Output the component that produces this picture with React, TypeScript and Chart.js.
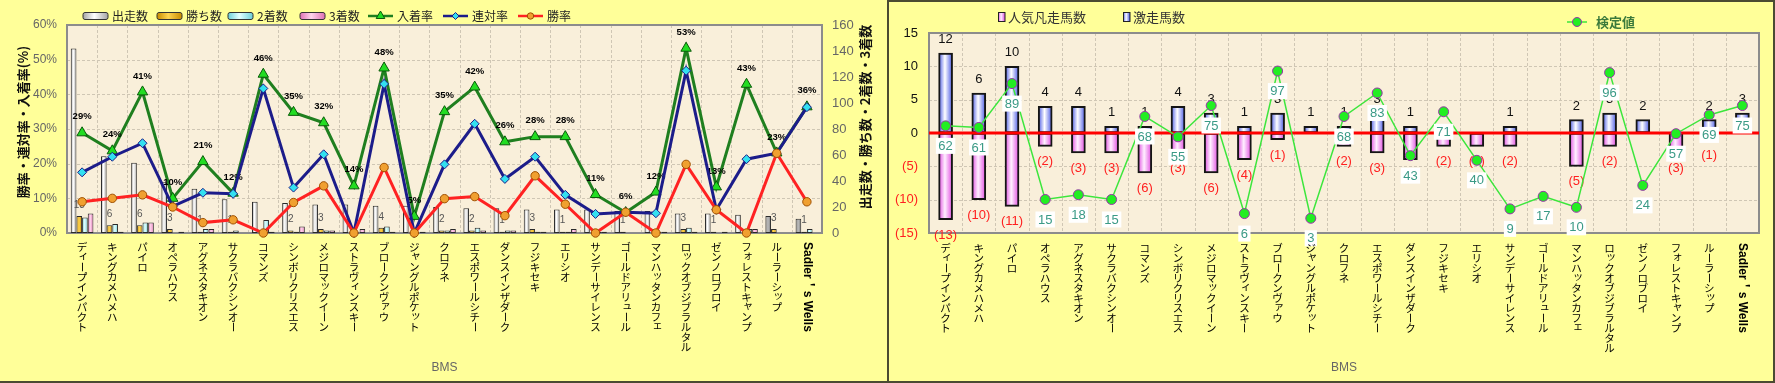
import React, { useEffect, useRef } from 'react';
import { Chart, registerables } from 'chart.js';
Chart.register(...registerables);

// ---------- data ----------
const categories = ['ディープインパクト', 'キングカメハメハ', 'パイロ', 'オペラハウス', 'アグネスタキオン', 'サクラバクシンオー', 'コマンズ', 'シンボリクリスエス', 'メジロマックイーン', 'ストラヴィンスキー', 'ブロークンヴァウ', 'ジャングルポケット', 'クロフネ', 'エスポワールシチー', 'ダンスインザダーク', 'フジキセキ', 'エリシオ', 'サンデーサイレンス', 'ゴールドアリュール', 'マンハッタンカフェ', 'ロックオブジブラルタル', 'ゼンノロブロイ', 'フォレストキャンプ', 'ルーラーシップ', 'Sadler＇s Wells'];

// left chart (counts)
const runs = [142, 59, 54, 39, 34, 26, 24, 23, 22, 22, 21, 21, 20, 19, 19, 18, 18, 18, 17, 17, 15, 15, 14, 13, 11];
const wins = [13, 6, 6, 3, 1, 1, 0, 2, 3, 0, 4, 0, 2, 2, 1, 3, 1, 0, 1, 0, 3, 1, 0, 3, 1];
const seconds = [12, 7, 8, 0, 3, 2, 10, 1, 2, 0, 5, 0, 2, 4, 2, 1, 1, 1, 0, 1, 4, 0, 3, 0, 3];
const thirds = [15, 1, 8, 1, 3, 0, 1, 5, 2, 3, 1, 1, 3, 2, 2, 1, 3, 1, 0, 1, 1, 1, 3, 0, 0];
// left chart (rates, %)
const placeRate = [28.9, 23.7, 40.7, 10.0, 20.6, 11.5, 45.8, 34.8, 31.8, 13.6, 47.6, 4.8, 35.0, 42.1, 26.3, 27.8, 27.8, 11.1, 5.9, 11.8, 53.3, 13.3, 42.9, 23.1, 36.4];
const rentaiRate = [17.5, 22.0, 25.9, 7.7, 11.6, 11.3, 41.7, 13.1, 22.7, 0, 43.0, 0, 19.8, 31.5, 15.6, 22.0, 11.0, 5.5, 6.0, 5.7, 46.8, 6.7, 21.3, 23.0, 36.3];
const winRate = [9.0, 10.0, 11.0, 7.5, 3.0, 3.8, 0, 8.8, 13.6, 0, 18.9, 0, 9.9, 10.5, 5.0, 16.5, 8.3, 0, 6.0, 0, 19.8, 6.7, 0, 23.0, 9.0];
const grayRunIdx = [23, 24];

// right chart
const gekisou = [12, 6, 10, 4, 4, 1, 1, 4, 3, 1, 3, 1, 1, 3, 1, 1, 0, 1, 0, 2, 3, 2, 0, 2, 3];
const bonsou = [13, 10, 11, 2, 3, 3, 6, 3, 6, 4, 1, 0, 2, 3, 4, 2, 2, 2, 0, 5, 2, 0, 3, 1, 0];
const kentei = [62, 61, 89, 15, 18, 15, 68, 55, 75, 6, 97, 3, 68, 83, 43, 71, 40, 9, 17, 10, 96, 24, 57, 69, 75];

// ---------- styles ----------
const N = categories.length;
const JP = '"Noto Sans CJK JP", sans-serif';
const LAT = '"Liberation Sans", Arial, sans-serif';
const YELLOW = '#FFFF99';
const DARK = '#4B4B32';
const PLOT_BG = '#F9EFDA';
const GRID = '#CFC6B4';
const FRAME = '#8C8C8C';

function drawVLabel(ctx: CanvasRenderingContext2D, text: string, x: number, top: number, step: number) {
  ctx.save();
  ctx.fillStyle = '#000';
  if (/^[\x20-\x7E＇’]+$/.test(text)) {
    ctx.translate(x, top);
    ctx.rotate(Math.PI / 2);
    ctx.font = `bold 12px ${LAT.replace('Arial', '"Noto Sans CJK JP", Arial')}`;
    ctx.textAlign = 'left';
    ctx.textBaseline = 'middle';
    ctx.fillText(text, 0, 0);
    ctx.restore();
    return;
  }
  ctx.font = `10.5px ${JP}`;
  ctx.textAlign = 'center';
  ctx.textBaseline = 'middle';
  const small = 'ァィゥェォッャュョ';
  [...text].forEach((ch, i) => {
    const cy = top + step * (i + 0.5);
    if (ch === 'ー') {
      ctx.save();
      ctx.translate(x, cy);
      ctx.rotate(Math.PI / 2);
      ctx.fillText(ch, 0, 0);
      ctx.restore();
    } else if (small.includes(ch)) {
      ctx.fillText(ch, x + 1.5, cy - 1.5);
    } else {
      ctx.fillText(ch, x, cy);
    }
  });
  ctx.restore();
}

function drawPlotBase(chart: any, yId: string) {
  const { ctx, chartArea: a } = chart;
  const ys = chart.scales[yId];
  ctx.save();
  ctx.fillStyle = PLOT_BG;
  ctx.fillRect(a.left, a.top, a.right - a.left, a.bottom - a.top);
  ctx.strokeStyle = GRID;
  ctx.lineWidth = 1;
  ctx.setLineDash([3, 2]);
  ys.ticks.forEach((t: any) => {
    const y = Math.round(ys.getPixelForValue(t.value)) + 0.5;
    ctx.beginPath();
    ctx.moveTo(a.left, y);
    ctx.lineTo(a.right, y);
    ctx.stroke();
  });
  for (let i = 1; i < N; i++) {
    const x = Math.round(a.left + ((a.right - a.left) * i) / N) + 0.5;
    ctx.beginPath();
    ctx.moveTo(x, a.top);
    ctx.lineTo(x, a.bottom);
    ctx.stroke();
  }
  ctx.setLineDash([]);
  ctx.strokeStyle = FRAME;
  ctx.lineWidth = 2;
  ctx.strokeRect(a.left, a.top, a.right - a.left, a.bottom - a.top);
  ctx.restore();
}

function marker(ctx: CanvasRenderingContext2D, kind: string, x: number, y: number, r: number, fill: string, stroke: string) {
  ctx.save();
  ctx.beginPath();
  if (kind === 'triangle') {
    ctx.moveTo(x, y - r);
    ctx.lineTo(x - r * 0.866, y + r * 0.5);
    ctx.lineTo(x + r * 0.866, y + r * 0.5);
    ctx.closePath();
  } else if (kind === 'diamond') {
    ctx.moveTo(x, y - r);
    ctx.lineTo(x + r, y);
    ctx.lineTo(x, y + r);
    ctx.lineTo(x - r, y);
    ctx.closePath();
  } else {
    ctx.arc(x, y, r, 0, Math.PI * 2);
  }
  ctx.fillStyle = fill;
  ctx.fill();
  ctx.lineWidth = 1;
  ctx.strokeStyle = stroke;
  ctx.stroke();
  ctx.restore();
}

function hGrad(ctx: CanvasRenderingContext2D, left: number, w: number, edge: string, center: string) {
  const g = ctx.createLinearGradient(left, 0, left + w, 0);
  g.addColorStop(0, edge);
  g.addColorStop(0.45, center);
  g.addColorStop(1, edge);
  return g;
}

// ---------- left chart ----------
const barStyles = [
  { edge: '#A4A4A4', center: '#FFFFFF' },
  { edge: '#C88C00', center: '#FFD450' },
  { edge: '#6CCFD8', center: '#E4FFFF' },
  { edge: '#E070B4', center: '#FFD4EC' },
];
const lineStyles = [
  { color: '#1F7F1F', marker: 'triangle', fill: '#22DD22', stroke: '#0A5A0A', r: 6 },
  { color: '#1C1C8A', marker: 'diamond', fill: '#33E0F0', stroke: '#1C1C8A', r: 4.5 },
  { color: '#FF2222', marker: 'circle', fill: '#F0A030', stroke: '#A05000', r: 4.2 },
];

function leftBarBg(k: number) {
  return (c: any) => {
    const chart = c.chart;
    const xs = chart.scales && chart.scales.x;
    const st = barStyles[k];
    if (c.type !== 'data' || !xs || !chart.chartArea) return st.center;
    const cx = xs.getPixelForValue(c.dataIndex);
    const cw = xs.width / N;
    const bw = (cw * 0.75) / 4;
    const left = cx - cw * 0.375 + k * bw;
    if (k === 0 && grayRunIdx.includes(c.dataIndex)) return hGrad(chart.ctx, left, bw, '#7C7C7C', '#BDBDBD');
    return hGrad(chart.ctx, left, bw, st.edge, st.center);
  };
}

const leftLegendX = [83, 157, 228, 300, 368, 443, 518];

const leftPlugin = {
  id: 'leftDeco',
  beforeDatasetsDraw(chart: any) {
    drawPlotBase(chart, 'y');
  },
  beforeDatasetDraw(chart: any, args: any) {
    if (args.index === 4) {
      const ctx = chart.ctx;
      const meta = chart.getDatasetMeta(1);
      ctx.save();
      ctx.font = `10px ${LAT}`;
      ctx.fillStyle = '#555';
      ctx.textAlign = 'center';
      ctx.textBaseline = 'middle';
      wins.forEach((w, i) => {
        if (w > 0) {
          const el = meta.data[i];
          ctx.fillText(String(w), el.x, el.y - 11);
        }
      });
      ctx.restore();
    }
  },
  afterDatasetDraw(chart: any, args: any) {
    if (args.index === 4) {
      const ctx = chart.ctx;
      const meta = chart.getDatasetMeta(4);
      ctx.save();
      ctx.font = `bold 9.5px ${LAT}`;
      ctx.fillStyle = '#000';
      ctx.textAlign = 'center';
      ctx.textBaseline = 'middle';
      placeRate.forEach((v, i) => {
        const el = meta.data[i];
        ctx.fillText(Math.round(v) + '%', el.x, el.y - 16);
      });
      ctx.restore();
    }
  },
  afterDraw(chart: any) {
    const ctx = chart.ctx;
    const xs = chart.scales.x;
    const a = chart.chartArea;
    // legend
    ctx.save();
    const ly = 16;
    chart.data.datasets.forEach((ds: any, i: number) => {
      const x0 = leftLegendX[i];
      if (i < 4) {
        const st = barStyles[i];
        ctx.beginPath();
        ctx.roundRect(x0, ly - 3.5, 25, 7, 2);
        ctx.fillStyle = hGrad(ctx, x0, 25, st.edge, st.center);
        ctx.fill();
        ctx.strokeStyle = '#333';
        ctx.lineWidth = 1;
        ctx.stroke();
      } else {
        const ls = lineStyles[i - 4];
        ctx.beginPath();
        ctx.moveTo(x0, ly);
        ctx.lineTo(x0 + 25, ly);
        ctx.strokeStyle = ls.color;
        ctx.lineWidth = 2.5;
        ctx.stroke();
        marker(ctx, ls.marker, x0 + 12.5, ly, ls.r - 1, ls.fill, ls.stroke);
      }
      ctx.font = `12px ${JP}`;
      ctx.fillStyle = '#222';
      ctx.textAlign = 'left';
      ctx.textBaseline = 'middle';
      ctx.fillText(ds.label, x0 + 29, ly);
    });
    // axis titles
    ctx.font = `bold 13px ${JP}`;
    ctx.fillStyle = '#111';
    ctx.textAlign = 'center';
    ctx.textBaseline = 'middle';
    ctx.save();
    ctx.translate(23, 122);
    ctx.rotate(-Math.PI / 2);
    ctx.fillText('勝率・連対率・入着率(%)', 0, 0);
    ctx.restore();
    ctx.save();
    ctx.translate(865, 117);
    ctx.rotate(-Math.PI / 2);
    ctx.fillText('出走数・勝ち数・2着数・3着数', 0, 0);
    ctx.restore();
    ctx.font = `12px ${LAT}`;
    ctx.fillStyle = '#666';
    ctx.fillText('BMS', (a.left + a.right) / 2, 368);
    ctx.restore();
    // x labels
    categories.forEach((c, i) => drawVLabel(ctx, c, xs.getPixelForValue(i), 242, 10));
  },
};

function leftConfig(): any {
  return {
    type: 'bar',
    data: {
      labels: categories,
      datasets: [
        { type: 'bar', label: '出走数', data: runs, yAxisID: 'y1', backgroundColor: leftBarBg(0), borderColor: '#2A2A2A', borderWidth: 1, borderSkipped: false, order: 10 },
        { type: 'bar', label: '勝ち数', data: wins, yAxisID: 'y1', backgroundColor: leftBarBg(1), borderColor: '#2A2A2A', borderWidth: 1, borderSkipped: false, order: 10 },
        { type: 'bar', label: '2着数', data: seconds, yAxisID: 'y1', backgroundColor: leftBarBg(2), borderColor: '#2A2A2A', borderWidth: 1, borderSkipped: false, order: 10 },
        { type: 'bar', label: '3着数', data: thirds, yAxisID: 'y1', backgroundColor: leftBarBg(3), borderColor: '#2A2A2A', borderWidth: 1, borderSkipped: false, order: 10 },
        { type: 'line', label: '入着率', data: placeRate, yAxisID: 'y', borderColor: lineStyles[0].color, borderWidth: 3, pointStyle: 'triangle', pointRadius: 6, pointBackgroundColor: lineStyles[0].fill, pointBorderColor: lineStyles[0].stroke, pointBorderWidth: 1, tension: 0, order: 3, clip: false },
        { type: 'line', label: '連対率', data: rentaiRate, yAxisID: 'y', borderColor: lineStyles[1].color, borderWidth: 3, pointStyle: 'rectRot', pointRadius: 4.5, pointBackgroundColor: lineStyles[1].fill, pointBorderColor: lineStyles[1].stroke, pointBorderWidth: 1, tension: 0, order: 2, clip: false },
        { type: 'line', label: '勝率', data: winRate, yAxisID: 'y', borderColor: lineStyles[2].color, borderWidth: 3, pointStyle: 'circle', pointRadius: 4.2, pointBackgroundColor: lineStyles[2].fill, pointBorderColor: lineStyles[2].stroke, pointBorderWidth: 1, tension: 0, order: 1, clip: false },
      ],
    },
    options: {
      responsive: false,
      animation: false,
      events: [],
      layout: { padding: { left: 0, right: 0, top: 25, bottom: 0 } },
      datasets: { bar: { categoryPercentage: 0.75, barPercentage: 1 } },
      plugins: { legend: { display: false }, tooltip: { enabled: false }, title: { display: false } },
      scales: {
        x: {
          type: 'category', offset: true,
          grid: { display: false, drawTicks: false }, border: { display: false },
          ticks: { display: false },
          afterFit: (s: any) => { s.height = 148; },
        },
        y: {
          position: 'left', min: 0, max: 60,
          ticks: { stepSize: 10, callback: (v: any) => v + '%', color: '#666', font: { size: 12, family: LAT }, padding: 10 },
          grid: { display: false, drawTicks: false }, border: { display: false },
          afterFit: (s: any) => { s.width = 67; },
        },
        y1: {
          position: 'right', min: 0, max: 160,
          ticks: { stepSize: 20, color: '#666', font: { size: 13, family: LAT }, padding: 10 },
          grid: { display: false, drawTicks: false }, border: { display: false },
          afterFit: (s: any) => { s.width = 65; },
        },
      },
    },
    plugins: [leftPlugin],
  };
}

// ---------- right chart ----------
const BLUE = { edge: '#4454E4', center: '#FFFFFF' };
const PINK = { edge: '#E048E0', center: '#FFF0FF' };

function rightBarBg(st: { edge: string; center: string }) {
  return (c: any) => {
    const chart = c.chart;
    const xs = chart.scales && chart.scales.x;
    if (c.type !== 'data' || !xs || !chart.chartArea) return st.edge;
    const cx = xs.getPixelForValue(c.dataIndex);
    return hGrad(chart.ctx, cx - 7, 14, st.edge, st.center);
  };
}

const rightPlugin = {
  id: 'rightDeco',
  beforeDatasetsDraw(chart: any) {
    drawPlotBase(chart, 'y');
  },
  beforeDatasetDraw(chart: any, args: any) {
    if (args.index !== 2) return;
    const ctx = chart.ctx;
    const xs = chart.scales.x;
    const ys = chart.scales.y;
    const a = chart.chartArea;
    ctx.save();
    ctx.font = `13px ${LAT}`;
    ctx.textAlign = 'center';
    ctx.textBaseline = 'middle';
    categories.forEach((_, i) => {
      const x = xs.getPixelForValue(i);
      if (gekisou[i] > 0) {
        ctx.fillStyle = '#111';
        ctx.fillText(String(gekisou[i]), x, ys.getPixelForValue(gekisou[i]) - 13.5);
      }
      if (bonsou[i] > 0) {
        ctx.fillStyle = '#FF2020';
        ctx.fillText(`(${bonsou[i]})`, x, ys.getPixelForValue(-bonsou[i]) + 15.5);
      }
    });
    const y0 = ys.getPixelForValue(0);
    ctx.strokeStyle = '#FF0000';
    ctx.lineWidth = 3;
    ctx.beginPath();
    ctx.moveTo(a.left, y0);
    ctx.lineTo(a.right, y0);
    ctx.stroke();
    ctx.restore();
  },
  afterDatasetsDraw(chart: any) {
    const ctx = chart.ctx;
    const meta = chart.getDatasetMeta(2);
    ctx.save();
    ctx.font = `13px ${LAT}`;
    ctx.textAlign = 'center';
    ctx.textBaseline = 'middle';
    kentei.forEach((v, i) => {
      const el = meta.data[i];
      const t = String(v);
      const w = ctx.measureText(t).width + 5;
      const cy = el.y + 20;
      ctx.fillStyle = '#FFFFFF';
      ctx.fillRect(el.x - w / 2, cy - 8, w, 16);
      ctx.fillStyle = '#3A9A86';
      ctx.fillText(t, el.x, cy + 0.5);
    });
    ctx.restore();
  },
  afterDraw(chart: any) {
    const ctx = chart.ctx;
    const xs = chart.scales.x;
    const a = chart.chartArea;
    ctx.save();
    // legend: bars
    const items = [
      { ds: 0, x: 109, st: PINK },
      { ds: 1, x: 234, st: BLUE },
    ];
    items.forEach((it) => {
      ctx.fillStyle = hGrad(ctx, it.x, 7, it.st.edge, it.st.center);
      ctx.fillRect(it.x, 10.5, 7, 9);
      ctx.strokeStyle = '#222';
      ctx.lineWidth = 1;
      ctx.strokeRect(it.x + 0.5, 10.5, 6.5, 9);
      ctx.font = `13px ${JP}`;
      ctx.fillStyle = '#333';
      ctx.textAlign = 'left';
      ctx.textBaseline = 'middle';
      ctx.fillText(chart.data.datasets[it.ds].label, it.x + 10, 15);
    });
    // legend: line
    ctx.strokeStyle = '#3CE63C';
    ctx.lineWidth = 1.5;
    ctx.beginPath();
    ctx.moveTo(678, 20);
    ctx.lineTo(698, 20);
    ctx.stroke();
    marker(ctx, 'circle', 688, 20, 4.5, '#22EE22', '#9933AA');
    ctx.font = `bold 13px ${JP}`;
    ctx.fillStyle = '#3B7A3B';
    ctx.textAlign = 'left';
    ctx.textBaseline = 'middle';
    ctx.fillText(chart.data.datasets[2].label, 707, 20);
    // x title
    ctx.font = `12px ${LAT}`;
    ctx.fillStyle = '#666';
    ctx.textAlign = 'center';
    ctx.fillText('BMS', (a.left + a.right) / 2, 366);
    ctx.restore();
    categories.forEach((c, i) => drawVLabel(ctx, c, xs.getPixelForValue(i), 241, 10));
  },
};

function rightConfig(): any {
  return {
    type: 'bar',
    data: {
      labels: categories,
      datasets: [
        { type: 'bar', label: '人気凡走馬数', data: bonsou.map((v) => -v), yAxisID: 'y', backgroundColor: rightBarBg(PINK), borderColor: '#151515', borderWidth: 2, borderSkipped: false, barThickness: 14, order: 5 },
        { type: 'bar', label: '激走馬数', data: gekisou, yAxisID: 'y', backgroundColor: rightBarBg(BLUE), borderColor: '#151515', borderWidth: 2, borderSkipped: false, barThickness: 14, order: 5 },
        { type: 'line', label: '検定値', data: kentei, yAxisID: 'y2', borderColor: '#3CE63C', borderWidth: 1.5, pointStyle: 'circle', pointRadius: 5, pointBackgroundColor: '#22EE22', pointBorderColor: '#9933AA', pointBorderWidth: 1, tension: 0, order: 0, clip: false },
      ],
    },
    options: {
      responsive: false,
      animation: false,
      events: [],
      layout: { padding: { left: 0, right: 14, top: 31, bottom: 0 } },
      plugins: { legend: { display: false }, tooltip: { enabled: false }, title: { display: false } },
      scales: {
        x: {
          type: 'category', offset: true, stacked: true,
          grid: { display: false, drawTicks: false }, border: { display: false },
          ticks: { display: false },
          afterFit: (s: any) => { s.height = 148; },
        },
        y: {
          position: 'left', min: -15, max: 15, stacked: true,
          ticks: {
            stepSize: 5,
            callback: (v: any) => (v < 0 ? `(${-v})` : String(v)),
            color: (c: any) => (c.tick && c.tick.value < 0 ? '#FF2020' : '#111'),
            font: { size: 13, family: LAT },
            padding: 11,
          },
          grid: { display: false, drawTicks: false }, border: { display: false },
          afterFit: (s: any) => { s.width = 40; },
        },
        y2: { display: false, min: -6.4, max: 121.3 },
      },
    },
    plugins: [rightPlugin],
  };
}

export default function App() {
  const leftRef = useRef<HTMLCanvasElement>(null);
  const rightRef = useRef<HTMLCanvasElement>(null);
  useEffect(() => {
    const c1 = new Chart(leftRef.current as HTMLCanvasElement, leftConfig());
    const c2 = new Chart(rightRef.current as HTMLCanvasElement, rightConfig());
    return () => {
      c1.destroy();
      c2.destroy();
    };
  }, []);
  return (
    <div style={{ position: 'fixed', left: 0, top: 0, width: 1775, height: 383, background: YELLOW, overflow: 'hidden' }}>
      <div style={{ position: 'absolute', left: 0, top: 0, width: 887, height: 381, borderRight: `2px solid ${DARK}`, borderBottom: `2px solid ${DARK}` }}>
        <canvas ref={leftRef} width={887} height={381} style={{ display: 'block' }} />
      </div>
      <div style={{ position: 'absolute', left: 889, top: 0, width: 884, height: 379, borderTop: `2px solid ${DARK}`, borderRight: `2px solid ${DARK}`, borderBottom: `2px solid ${DARK}` }}>
        <canvas ref={rightRef} width={884} height={379} style={{ display: 'block' }} />
      </div>
    </div>
  );
}
